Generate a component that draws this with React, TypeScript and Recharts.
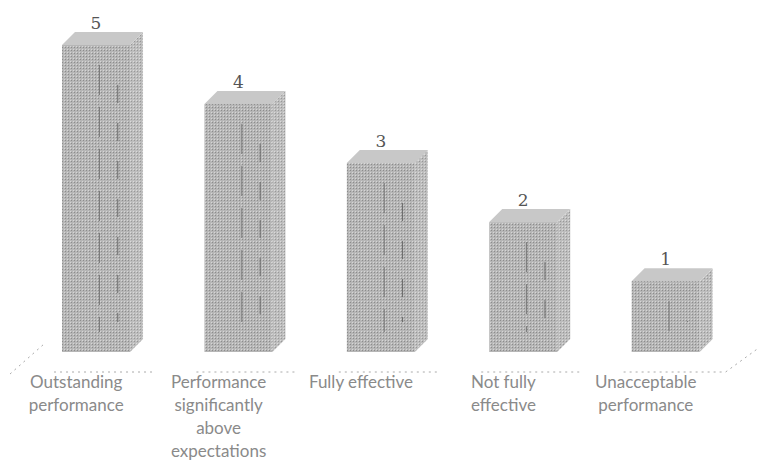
import React from 'react';
import { Bar, BarChart, LabelList, XAxis, YAxis } from 'recharts';

const categories = [
  'Outstanding performance',
  'Performance significantly above expectations',
  'Fully effective',
  'Not fully effective',
  'Unacceptable performance',
];
const ratings = [5, 4, 3, 2, 1];

const data = categories.map((category, i) => ({ category, rating: ratings[i] }));

const DEPTH = 13;

// wrap a label on word boundaries, roughly like the original chart
const wrapWords = (text: string, max = 15) => {
  const lines: string[] = [];
  let cur = '';
  text.split(' ').forEach((w) => {
    if (!cur) cur = w;
    else if ((cur + ' ' + w).length <= max) cur += ' ' + w;
    else {
      lines.push(cur);
      cur = w;
    }
  });
  if (cur) lines.push(cur);
  return lines;
};

const Box3D = (props: any) => {
  const { x, y, width, background, index } = props;
  const bottom = background.y + background.height;
  const d = DEPTH;
  const last = index === categories.length - 1;
  return (
    <g>
      {/* floor shadow line */}
      <line x1={x - 8} y1={bottom + 20} x2={x + width + 22} y2={bottom + 20} stroke="#aaa" strokeDasharray="2 4" />
      {index === 0 && (
        <line x1={x - 52} y1={bottom + 22} x2={x - 18} y2={bottom - 8} stroke="#aaa" strokeDasharray="2 4" />
      )}
      {last && (
        <line x1={x + width + 26} y1={bottom + 20} x2={x + width + 70} y2={bottom - 12} stroke="#aaa" strokeDasharray="2 4" />
      )}
      <path
        d={`M${x + width},${y} L${x + width + d},${y - d} L${x + width + d},${bottom - d} L${x + width},${bottom} Z`}
        fill="url(#dither)"
        opacity={0.9}
      />
      <path d={`M${x},${y} L${x + d},${y - d} L${x + width + d},${y - d} L${x + width},${y} Z`} fill="#c8c8c8" />
      <rect x={x} y={y} width={width} height={bottom - y} fill="url(#dither)" />
      <line x1={x + width * 0.55} y1={y + 20} x2={x + width * 0.55} y2={bottom - 20} stroke="#777" strokeDasharray="30 12" />
      <line x1={x + width * 0.82} y1={y + 40} x2={x + width * 0.82} y2={bottom - 30} stroke="#6a6a6a" strokeDasharray="18 20" />
    </g>
  );
};

const CategoryTick = (props: any) => {
  const { x, y, payload } = props;
  const lines = wrapWords(payload.value);
  return (
    <text x={x - 20} y={y} textAnchor="middle" fill="#8a8a8a" fontFamily="Lato, sans-serif" fontSize={17}>
      {lines.map((l, i) => (
        <tspan key={i} x={x - 20} dy={i === 0 ? 28 : 23}>
          {l}
        </tspan>
      ))}
    </text>
  );
};

const App = () => {
  return (
    <BarChart
      width={750}
      height={464}
      data={data}
      margin={{ top: 37, right: 21, bottom: 0, left: 17 }}
      barCategoryGap="26%"
    >
      <defs>
        <pattern id="dither" width="3" height="3" patternUnits="userSpaceOnUse">
          <rect width="3" height="3" fill="#b6b6b6" />
          <rect width="1" height="1" fill="#8c8c8c" />
          <rect x="2" y="2" width="1" height="1" fill="#d6d6d6" />
        </pattern>
      </defs>
      <XAxis dataKey="category" axisLine={false} tickLine={false} interval={0} height={120} tick={<CategoryTick />} />
      <YAxis hide domain={[-0.2, 5]} />
      <Bar dataKey="rating" shape={<Box3D />} background={{ fill: 'transparent' }} isAnimationActive={false}>
        <LabelList
          dataKey="rating"
          position="top"
          offset={DEPTH + 3}
          fill="#555"
          fontFamily="DejaVu Serif, serif"
          fontSize={17}
        />
      </Bar>
    </BarChart>
  );
};

export default App;
